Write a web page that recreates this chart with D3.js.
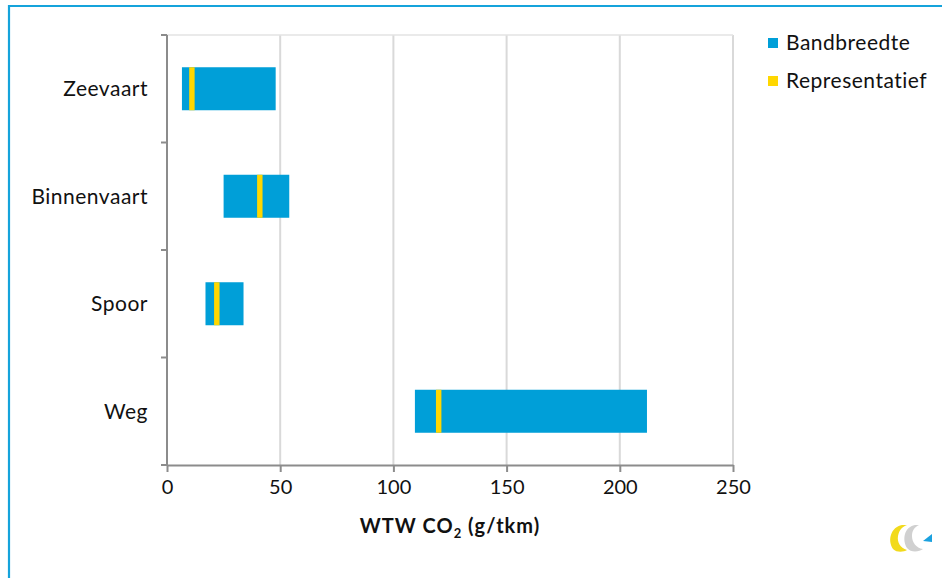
<!DOCTYPE html>
<html><head><meta charset="utf-8">
<script src="https://cdn.jsdelivr.net/npm/d3@7"></script>
<style>body{margin:0;background:#fff}svg{display:block;font-family:Lato,"Open Sans",sans-serif}</style>
</head><body>
<svg id="c" width="942" height="578"></svg>
<script>
const categories = ["Zeevaart","Binnenvaart","Spoor","Weg"];
const rangeMin = [6.6, 25, 17, 109.5];
const rangeMax = [48, 54, 33.8, 212];
const representative = [11, 41, 22, 120];
const xTicks = [0,50,100,150,200,250];
const legendLabels = ["Bandbreedte","Representatief"];
const colors = ["#009FD8","#FFD700"];

const svg = d3.select("#c");
// outer frame
svg.append("path").attr("d","M9,578 V6 H942").attr("fill","none").attr("stroke","#15A3DB").attr("stroke-width",2.2);

const m = {l:167, r:733, t:35, b:465};
const x = d3.scaleLinear().domain([0,250]).range([m.l,m.r]);
const y = d3.scaleBand().domain(categories).range([m.t,m.b]).paddingInner(0.6).paddingOuter(0.3);
const yb = d3.scaleBand().domain(categories).range([m.t,m.b]);

// gridlines
svg.append("g").selectAll("line").data(xTicks.slice(1)).join("line")
  .attr("x1",d=>x(d)).attr("x2",d=>x(d)).attr("y1",m.t).attr("y2",m.b)
  .attr("stroke","#D9D9D9").attr("stroke-width",2);
svg.append("line").attr("x1",m.l).attr("x2",m.r).attr("y1",m.t).attr("y2",m.t).attr("stroke","#E3E3E3").attr("stroke-width",1.5);

// bars
const g = svg.append("g");
g.selectAll("rect.band").data(categories).join("rect").attr("class","band")
  .attr("x",(d,i)=>x(rangeMin[i])).attr("width",(d,i)=>x(rangeMax[i])-x(rangeMin[i]))
  .attr("y",d=>y(d)).attr("height",y.bandwidth()).attr("fill",colors[0]);
g.selectAll("rect.rep").data(categories).join("rect").attr("class","rep")
  .attr("x",(d,i)=>x(representative[i]-1.2)).attr("width",(d,i)=>x(representative[i]+1.2)-x(representative[i]-1.2))
  .attr("y",d=>y(d)).attr("height",y.bandwidth()).attr("fill",colors[1]);

// x axis
const xa = svg.append("g").attr("transform",`translate(0,${m.b})`)
  .call(d3.axisBottom(x).tickValues(xTicks).tickSize(7).tickPadding(8).tickSizeOuter(0));
xa.select(".domain").attr("stroke","#8C8C8C").attr("stroke-width",2);
xa.selectAll(".tick line").attr("stroke","#8C8C8C").attr("stroke-width",2);
xa.selectAll(".tick text").attr("font-size",20).attr("fill","#111").attr("font-family","Lato,sans-serif");

// y axis
const ya = svg.append("g").attr("transform",`translate(${m.l},0)`);
ya.append("line").attr("x1",0).attr("x2",0).attr("y1",m.t).attr("y2",m.b).attr("stroke","#8C8C8C").attr("stroke-width",2);
const bounds = [m.t].concat(categories.map(c=>yb(c)+yb.bandwidth()));
ya.selectAll("line.t").data(bounds).join("line").attr("class","t")
  .attr("x1",-6).attr("x2",0).attr("y1",d=>d).attr("y2",d=>d).attr("stroke","#8C8C8C").attr("stroke-width",2);
ya.selectAll("text").data(categories).join("text")
  .attr("x",-19).attr("y",d=>yb(d)+yb.bandwidth()/2).attr("dy","0.35em")
  .attr("text-anchor","end").attr("font-size",21).attr("letter-spacing",0.5).attr("fill","#111").text(d=>d);

// x axis title
const t = svg.append("text").attr("x",(m.l+m.r)/2).attr("y",533).attr("text-anchor","middle")
  .attr("font-size",20).attr("letter-spacing",1).attr("font-weight","bold").attr("fill","#111");
t.append("tspan").text("WTW CO");
t.append("tspan").attr("font-size",13).attr("dy",5).text("2");
t.append("tspan").attr("dy",-5).text(" (g/tkm)");

// legend
const lg = svg.append("g").selectAll("g").data(legendLabels).join("g")
  .attr("transform",(d,i)=>`translate(768,${43+i*38})`);
lg.append("rect").attr("x",0).attr("y",-5).attr("width",10).attr("height",10).attr("fill",(d,i)=>colors[i]);
lg.append("text").attr("x",18).attr("dy","0.35em").attr("font-size",21).attr("letter-spacing",0.5).attr("fill","#111").text(d=>d);

// logo
const lo = svg.append("g").attr("transform","translate(889,525)");
lo.append("path").attr("d","M13,0 C2,2 -2,15 4,24 C8,28 15,27 18,25 C11,23 8,17 9,11 C10,5 13,2 18,0 Z").attr("fill","#F2DA1C");
lo.append("path").attr("d","M26,0 C15,2 13,15 18,23 C22,28 30,27 34,24 C27,23 23,17 23,11 C23,5 26,2 30,0 Z").attr("fill","#D0D0D0");
lo.append("path").attr("d","M34,16 L43,9 L43,17 Z").attr("fill","#1BA1DF");
</script>
</body></html>
